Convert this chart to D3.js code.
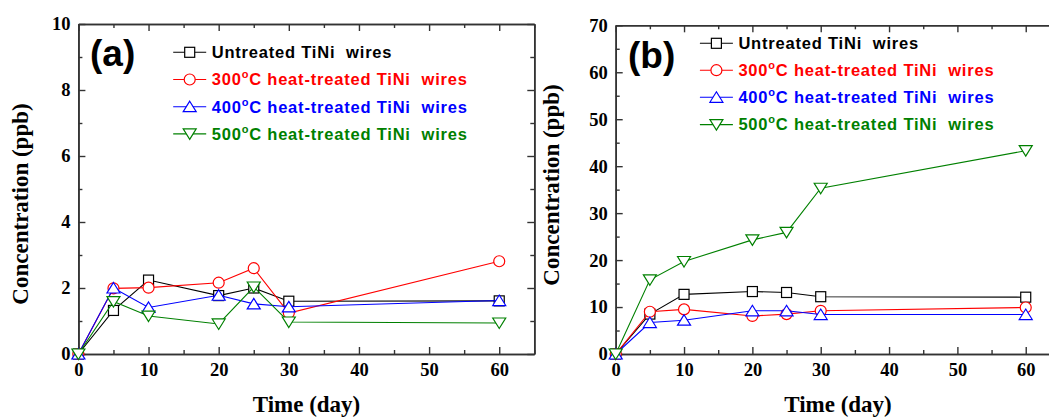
<!DOCTYPE html>
<html>
<head>
<meta charset="utf-8">
<script src="https://cdn.jsdelivr.net/npm/d3@7"></script>
<style>
  body { margin: 0; background: #fff; }
  svg { display: block; overflow: hidden; }
  .tick text { font-family: "Liberation Serif", "Times New Roman", serif; font-weight: bold; font-size: 18.5px; fill: #000; }
  .axis path, .axis line { stroke: #333; }
  .axis path { stroke-width: 1.6; }
  .axis line { stroke-width: 1.4; }
  .axis-title { font-family: "Liberation Serif", "Times New Roman", serif; font-weight: bold; font-size: 23px; }
  .legend-text { font-family: "Liberation Sans", Arial, sans-serif; font-weight: bold; font-size: 16.5px; letter-spacing: 0.8px; }
  .panel-label { font-family: "Liberation Sans", Arial, sans-serif; font-weight: bold; font-size: 37px; }
</style>
</head>
<body>
<script>
const WIDTH = 1049;
const HEIGHT = 417;

// x values (days) shared by every series
const DAYS = [0, 5, 10, 20, 25, 30, 60];
const X_TICKS = [0, 10, 20, 30, 40, 50, 60];
const X_MINOR = [5, 15, 25, 35, 45, 55, 65];

// legend
const SERIES_TEMPS = [null, "300", "400", "500"];
const SERIES_COLORS = ["#000000", "#ff0000", "#0000ff", "#008000"];
const SERIES_SYMBOLS = ["square", "circle", "up", "down"];

// panel (a)
const A_UNTREATED = [0, 1.32, 2.24, 1.77, 2.0, 1.6, 1.61];
const A_300 = [0, 1.99, 2.01, 2.16, 2.6, 1.24, 2.81];
const A_400 = [0, 2.0, 1.41, 1.78, 1.52, 1.43, 1.62];
const A_500 = [0, 1.59, 1.15, 0.91, 2.03, 0.97, 0.94];
const A_Y_TICKS = [0, 2, 4, 6, 8, 10];
const A_Y_MINOR = [1, 3, 5, 7, 9];

// panel (b)
const B_UNTREATED = [0, 8.5, 12.7, 13.3, 13.1, 12.2, 12.1];
const B_300 = [0, 9.0, 9.5, 8.1, 8.5, 9.2, 9.9];
const B_400 = [0, 6.7, 7.2, 9.2, 9.2, 8.4, 8.4];
const B_500 = [0, 15.8, 19.7, 24.3, 25.9, 35.3, 43.3];
const B_Y_TICKS = [0, 10, 20, 30, 40, 50, 60, 70];
const B_Y_MINOR = [5, 15, 25, 35, 45, 55, 65];

const PANELS = [
  {
    label: "(a)", series: [A_UNTREATED, A_300, A_400, A_500],
    yMax: 10, yTicks: A_Y_TICKS, yMinor: A_Y_MINOR,
    left: 78.4, right: 534.3, top: 24, bottom: 354,
    labelX: 90, labelY: 65.5,
    legendX: 189.7, legendY: [52.3, 79.5, 106.7, 133.9],
    yTitleX: 28, yTitleY: 204, xTitleX: 306.5
  },
  {
    label: "(b)", series: [B_UNTREATED, B_300, B_400, B_500],
    yMax: 70, yTicks: B_Y_TICKS, yMinor: B_Y_MINOR,
    left: 615.7, right: 1059.9, top: 25.3, bottom: 354,
    labelX: 628, labelY: 67.5,
    legendX: 716.4, legendY: [43.3, 70.2, 97.3, 124.6],
    yTitleX: 559, yTitleY: 185, xTitleX: 838
  }
];

const svg = d3.select("body").append("svg").attr("width", WIDTH).attr("height", HEIGHT);

function marker(sel, type, color) {
  if (type === "circle") {
    sel.append("circle").attr("r", 5.5);
  } else if (type === "square") {
    sel.append("rect").attr("x", -5).attr("y", -5).attr("width", 10).attr("height", 10);
  } else if (type === "up") {
    sel.append("path").attr("d", "M0,-5.5L6.5,5L-6.5,5Z");
  } else {
    sel.append("path").attr("d", "M0,5.5L6.5,-5L-6.5,-5Z");
  }
  sel.selectAll("*").attr("fill", "white").attr("stroke", color).attr("stroke-width", 1.2);
}

function legendLabel(text, temp, color) {
  text.attr("fill", color);
  if (temp === null) {
    text.text("Untreated TiNi\u00a0 wires");
    return;
  }
  text.append("tspan").text(temp);
  text.append("tspan").attr("font-size", "11px").attr("dy", -7).text("o");
  text.append("tspan").attr("dy", 7).text("C heat-treated TiNi\u00a0 wires");
}

function drawPanel(p) {
  const x = d3.scaleLinear().domain([0, 65]).range([p.left, p.right]);
  const y = d3.scaleLinear().domain([0, p.yMax]).range([p.bottom, p.top]);
  const g = svg.append("g");

  // mirrored axes (top, right) with inward ticks
  g.append("g").attr("class", "axis").attr("transform", `translate(0,${p.top})`)
    .call(d3.axisTop(x).tickValues(X_TICKS).tickSizeInner(-7).tickSizeOuter(0).tickFormat(""));
  g.append("g").attr("class", "axis").attr("transform", `translate(0,${p.top})`)
    .call(d3.axisTop(x).tickValues(X_MINOR).tickSizeInner(-4).tickSizeOuter(0).tickFormat(""));
  g.append("g").attr("class", "axis").attr("transform", `translate(${p.right},0)`)
    .call(d3.axisRight(y).tickValues(p.yTicks).tickSizeInner(-7).tickSizeOuter(0).tickFormat(""));
  g.append("g").attr("class", "axis").attr("transform", `translate(${p.right},0)`)
    .call(d3.axisRight(y).tickValues(p.yMinor).tickSizeInner(-4).tickSizeOuter(0).tickFormat(""));

  // bottom
  g.append("g").attr("class", "axis").attr("transform", `translate(0,${p.bottom})`)
    .call(d3.axisBottom(x).tickValues(X_MINOR).tickSizeInner(-4).tickSizeOuter(0).tickFormat(""));
  g.append("g").attr("class", "axis").attr("transform", `translate(0,${p.bottom})`)
    .call(d3.axisBottom(x).tickValues(X_TICKS).tickSizeInner(-7).tickSizeOuter(0).tickPadding(9).tickFormat(d3.format("d")));

  // left
  g.append("g").attr("class", "axis").attr("transform", `translate(${p.left},0)`)
    .call(d3.axisLeft(y).tickValues(p.yMinor).tickSizeInner(-4).tickSizeOuter(0).tickFormat(""));
  g.append("g").attr("class", "axis").attr("transform", `translate(${p.left},0)`)
    .call(d3.axisLeft(y).tickValues(p.yTicks).tickSizeInner(-7).tickSizeOuter(0).tickPadding(8).tickFormat(d3.format("d")));

  // titles
  g.append("text").attr("class", "axis-title")
    .attr("x", p.xTitleX).attr("y", 411.5).attr("text-anchor", "middle")
    .text("Time (day)");
  g.append("text").attr("class", "axis-title")
    .attr("transform", `translate(${p.yTitleX},${p.yTitleY}) rotate(-90)`)
    .attr("text-anchor", "middle")
    .text("Concentration (ppb)");

  g.append("text").attr("class", "panel-label")
    .attr("x", p.labelX).attr("y", p.labelY).text(p.label);

  // series
  const line = d3.line().x((d, i) => x(DAYS[i])).y(d => y(d));
  p.series.forEach((vals, si) => {
    const color = SERIES_COLORS[si];
    g.append("path").datum(vals).attr("d", line)
      .attr("fill", "none").attr("stroke", color).attr("stroke-width", 1.1);
    g.append("g").selectAll("g").data(vals).enter().append("g")
      .attr("transform", (d, i) => `translate(${x(DAYS[i])},${y(d)})`)
      .each(function () { marker(d3.select(this), SERIES_SYMBOLS[si], color); });
  });

  // legend
  SERIES_COLORS.forEach((color, si) => {
    const cy = p.legendY[si];
    g.append("line").attr("x1", p.legendX - 16.5).attr("x2", p.legendX + 16.5)
      .attr("y1", cy).attr("y2", cy).attr("stroke", color).attr("stroke-width", 1.1);
    const m = g.append("g").attr("transform", `translate(${p.legendX},${cy})`);
    marker(m, SERIES_SYMBOLS[si], color);
    const t = g.append("text").attr("class", "legend-text")
      .attr("x", p.legendX + 22).attr("y", cy + 5.8);
    legendLabel(t, SERIES_TEMPS[si], color);
  });
}

PANELS.forEach(drawPanel);
</script>
</body>
</html>
